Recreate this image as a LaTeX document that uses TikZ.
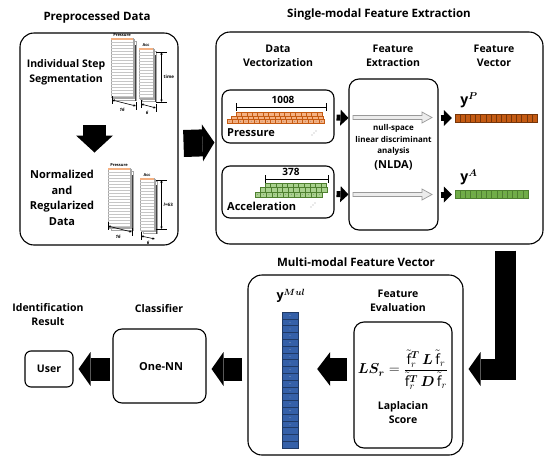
\documentclass[tikz,border=0pt]{standalone}
\usepackage{amsmath}
\usepackage{fontspec}
\setmainfont{Open Sans}
\usetikzlibrary{arrows.meta,calc}
\definecolor{porange}{HTML}{C55A11}
\definecolor{plight}{HTML}{F4B183}
\definecolor{agreen}{HTML}{70AD47}
\definecolor{alight}{HTML}{A9D18E}
\definecolor{adark}{HTML}{4E7F2F}
\definecolor{mblue}{HTML}{3560A8}
\newcommand{\sheetstack}[5]{%
  \foreach \k in {2,1,0}{
    \filldraw[fill=white, draw=gray!70, line width=0.3pt] ({#1+\k*1.6},{#2+\k*1.6}) rectangle ++(#3,#4);
  }
  \fill[plight] (#1,#2) rectangle ++(#3,1.6);
  \foreach \yy in {4,7,...,#4}{
    \draw[gray!45, line width=0.25pt] ({#1},{#2+\yy}) -- ++(#3,0);
  }
  \draw[line width=0.9pt, black!75] ({#1+#3+2.5},{#2+7}) -- ({#1+#3+2.5},{#2+#4+4});
  \node[font=\bfseries\fontsize{4}{4}\selectfont, anchor=south, inner sep=0.5pt] at ({#1+#3/2},{#2-0.5}) {#5};
}
\begin{document}
\begin{tikzpicture}[x=1pt,y=-1pt,
  bigbox/.style={draw, line width=1.1pt, rounded corners=14pt, inner sep=0pt},
  smallbox/.style={draw, line width=1.1pt, rounded corners=8pt, inner sep=0pt},
  ttl/.style={font=\bfseries\fontsize{11.5}{13}\selectfont, align=center},
  hdr/.style={font=\bfseries\fontsize{10.5}{14}\selectfont, align=center},
  sml/.style={font=\bfseries\fontsize{8}{11.5}\selectfont, align=center},
  tiny/.style={font=\bfseries\fontsize{4.5}{5}\selectfont, inner sep=0.5pt},
  blockarrow/.style n args={3}{line width=#1, -{Triangle[length=#2, width=#3, line width=0pt]}},
  dimline/.style={line width=0.6pt, {Latex[length=2.5pt,width=2.5pt]}-{Latex[length=2.5pt,width=2.5pt]}},
  hollow/.style={draw=gray!80, fill=gray!15, line width=0.7pt, line join=miter},
  vlbl/.style={font=\fontsize{14}{14}\selectfont, inner sep=0pt}
]
\useasboundingbox (0,0) rectangle (550,464);

% ---------- titles ----------
\node[ttl] (t1) at (97,18) {Preprocessed Data};
\node[ttl] (t2) at (379,15) {Single-modal Feature Extraction};

% ---------- left box ----------
\node[bigbox, minimum width=158pt, minimum height=212pt] (pre) at (99,139) {};
\node[hdr, font=\bfseries\fontsize{10.5}{15}\selectfont] (seg) at (66,72) {Individual Step\\Segmentation};
\node[hdr, font=\bfseries\fontsize{11}{15.5}\selectfont] (norm) at (62,198) {Normalized\\and\\Regularized\\Data};
\coordinate (d1) at (94.5,125);
\coordinate (d2) at (94.5,152.5);
\draw[blockarrow={23pt}{17pt}{37pt}] (d1) -- (d2);

% sheets top
\sheetstack{111}{38}{22}{59}{Pressure}
\sheetstack{139}{48}{14}{50}{Acc}
\draw (156,52) -- (167,52);
\draw (156,102) -- (167,102);
\draw[dimline] (161.5,52) -- (161.5,102);
\node[tiny, anchor=west] at (163,77) {time};
\draw[line width=0.6pt] (112,96) -- (112,104);
\draw[line width=0.6pt] (136,102) -- (136,110);
\draw[dimline] (112,100) -- (136,106);
\node[tiny, font=\bfseries\itshape\fontsize{4.5}{5}\selectfont] at (122,110) {16};
\draw[line width=0.6pt] (141,100) -- (141,108);
\draw[line width=0.6pt] (156,104) -- (156,112);
\draw[dimline] (141,104) -- (156,108);
\node[tiny, font=\bfseries\itshape\fontsize{4.5}{5}\selectfont] at (147,113) {6};

% sheets bottom
\sheetstack{108}{168}{22}{59}{Pressure}
\sheetstack{140}{178}{14}{52}{Acc}
\draw (156,180) -- (167,180);
\draw (156,229) -- (167,229);
\draw[dimline] (161.5,180) -- (161.5,229);
\node[tiny, anchor=west] at (163,205) {\textit{l}=63};
\draw[line width=0.6pt] (108,222) -- (108,230);
\draw[line width=0.6pt] (132,228) -- (132,236);
\draw[dimline] (108,226) -- (132,232);
\node[tiny, font=\bfseries\itshape\fontsize{4.5}{5}\selectfont] at (118,237) {16};
\draw[line width=0.6pt] (141,232) -- (141,240);
\draw[dimline] (141,236) -- (155,239);
\node[tiny, font=\bfseries\itshape\fontsize{4.5}{5}\selectfont] at (148,243) {6};

% ---------- right box ----------
\node[bigbox, minimum width=327pt, minimum height=212pt] (sme) at (379.5,138) {};
\draw[blockarrow={27pt}{12pt}{37pt}] ($(pre.east)+(5,4.5)$) -- ($(sme.west)+(-1,4.5)$);

\node[hdr] (h1) at (278,56) {Data\\Vectorization};
\node[hdr] (h2) at (393,56) {Feature\\Extraction};
\node[hdr] (h3) at (494,56) {Feature\\Vector};

\node[smallbox, minimum width=112pt, minimum height=53pt] (pbox) at (278,116.5) {};
\node[smallbox, minimum width=112pt, minimum height=52pt] (abox) at (278,192) {};
\node[smallbox, rounded corners=10pt, minimum width=89pt, minimum height=151pt] (nlda) at (393.5,154.5) {};

% pressure vector
\node[font=\bfseries\fontsize{10}{10}\selectfont] (n1008) at (283,100) {1008};
\draw[line width=0.7pt] (236,103) -- (236,111);
\draw[line width=0.7pt] (326,103) -- (326,111);
\draw[line width=0.6pt] (236,107) -- (326,107);
\foreach \i in {0,...,15}{
  \filldraw[fill=plight, draw=porange, line width=0.3pt] ({236+\i*5.4},112) rectangle ++(5.4,3.7);
}
\foreach \i in {0,...,16}{
  \filldraw[fill=plight, draw=porange, line width=0.3pt] ({231.5+\i*5.4},115.7) rectangle ++(5.4,3.7);
}
\foreach \i in {0,...,17}{
  \filldraw[fill=plight, draw=porange, line width=0.3pt] ({227+\i*5.4},119.4) rectangle ++(5.4,3.7);
  \fill[black!60] ({229.7+\i*5.4},121.25) circle (0.35pt);
}
\node[hdr, font=\bfseries\fontsize{11}{14}\selectfont, anchor=west, inner sep=0pt] (ptext) at (227,133) {Pressure};
\foreach \d in {0,1,2}{\fill ({312+\d*2},{135-\d*2}) circle (0.45pt);}

% acceleration vector
\node[font=\bfseries\fontsize{10}{10}\selectfont] (n378) at (291,172) {378};
\draw[line width=0.7pt] (265,175) -- (265,183);
\draw[line width=0.7pt] (328,175) -- (328,183);
\draw[line width=0.6pt] (265,179) -- (328,179);
\foreach \i in {0,...,10}{
  \filldraw[fill=alight, draw=adark, line width=0.3pt] ({265+\i*5.6},183) rectangle ++(5.6,4.6);
}
\foreach \i in {0,...,11}{
  \filldraw[fill=alight, draw=adark, line width=0.3pt] ({260+\i*5.6},187.6) rectangle ++(5.6,4.6);
}
\foreach \i in {0,...,11}{
  \filldraw[fill=alight, draw=adark, line width=0.3pt] ({255+\i*5.6},192.2) rectangle ++(5.6,4.6);
  \fill[black!60] ({257.8+\i*5.6},194.5) circle (0.35pt);
}
\node[hdr, font=\bfseries\fontsize{11}{14}\selectfont, anchor=west, inner sep=0pt] (atext) at (227,206) {Acceleration};
\foreach \d in {0,1,2}{\fill ({311+\d*2},{207-\d*2}) circle (0.45pt);}

% NLDA
\node[sml] (nl) at (393.5,140) {null-space\\linear discriminant\\analysis};
\node[hdr, font=\bfseries\fontsize{11}{14}\selectfont] (nlabbr) at (393.5,165) {(NLDA)};
\draw[hollow] (353,115.5) -- (422,115.5) -- (422,112) -- (432,117.5) -- (422,123) -- (422,119.5) -- (353,119.5) -- cycle;
\draw[hollow] (353,192.5) -- (422,192.5) -- (422,189) -- (432,194.5) -- (422,200) -- (422,196.5) -- (353,196.5) -- cycle;

% feature vectors
\node[draw=none, minimum width=82pt, minimum height=8pt, inner sep=0pt] (vp) at (496,118) {};
\foreach \i in {0,...,15}{
  \filldraw[fill=porange, draw=porange!60!black, line width=0.3pt] ({455+\i*5.125},114) rectangle ++(5.125,8);
  \fill[black!50] ({457.56+\i*5.125},118) circle (0.35pt);
}
\node[draw=none, minimum width=73pt, minimum height=8pt, inner sep=0pt] (va) at (491.5,194.5) {};
\foreach \i in {0,...,13}{
  \filldraw[fill=agreen, draw=adark, line width=0.3pt] ({455+\i*5.214},190.5) rectangle ++(5.214,8);
  \fill[black!50] ({457.6+\i*5.214},194.5) circle (0.35pt);
}
\node[vlbl] (yp) at (469,100) {$\mathbf{y}^{\boldsymbol{P}}$};
\node[vlbl] (ya) at (469,177) {$\mathbf{y}^{\boldsymbol{A}}$};

\draw[blockarrow={6pt}{8pt}{16pt}] ($(pbox.east)+(2,1)$) -- (nlda.west |- vp.west);
\draw[blockarrow={6pt}{8pt}{16pt}] ($(abox.east)+(2,2)$) -- (nlda.west |- va.west);
\draw[blockarrow={6pt}{8pt}{16pt}] ($(nlda.east |- vp.west)+(2,0)$) -- ($(vp.west)+(-3,0)$);
\draw[blockarrow={6pt}{8pt}{16pt}] ($(nlda.east |- va.west)+(2,0)$) -- ($(va.west)+(-3,0)$);

% ---------- bottom row ----------
\node[ttl] (t3) at (356,262) {Multi-modal Feature Vector};
\node[bigbox, minimum width=215pt, minimum height=180pt] (mm) at (355.5,365) {};
\coordinate (row) at (0,369);

\draw[blockarrow={21pt}{12pt}{34pt}, line join=miter] ($(sme.south -| 505.5,0)+(0,6)$) -- (505.5,369) -- ($(mm.east |- row)+(5,0)$);

\node[vlbl, font=\fontsize{12.5}{13}\selectfont] (ymul) at (291,296) {$\mathbf{y}^{\boldsymbol{Mul}}$};
\node[draw=none, minimum width=16pt, minimum height=136pt, inner sep=0pt] (col) at (290,380) {};
\foreach \i in {0,...,19}{
  \filldraw[fill=mblue, draw=mblue!60!black, line width=0.4pt] (282,{312+\i*6.8}) rectangle ++(16,6.8);
}
\foreach \i in {0,...,16}{
  \fill[white!80!black] (290,{315.4+\i*6.8}) circle (0.4pt);
}
\node[hdr] (fe) at (398,301) {Feature\\Evaluation};
\node[smallbox, rounded corners=10pt, minimum width=98pt, minimum height=126pt] (ls) at (403,385) {};
\node[inner sep=0pt, font=\fontsize{14}{16}\selectfont] (formula) at (403,370)
  {$\boldsymbol{LS_r} = \dfrac{\tilde{\mathrm{f}}_r^{\boldsymbol{T}}\,\boldsymbol{L}\,\tilde{\mathrm{f}}_r}{\tilde{\mathrm{f}}_r^{\boldsymbol{T}}\,\boldsymbol{D}\,\tilde{\mathrm{f}}_r}$};
\node[hdr] (lap) at (403,413) {Laplacian\\Score};
\draw[blockarrow={23pt}{13pt}{34pt}] ($(ls.west |- row)+(-6,0)$) -- ($(col.east |- row)+(19,0)$);

\node[hdr] (t4) at (159,309) {Classifier};
\node[smallbox, rounded corners=9pt, minimum width=93pt, minimum height=74pt] (cls) at (159.5,366) {};
\node[hdr, font=\bfseries\fontsize{11}{13}\selectfont] (onenn) at (161,367) {One-NN};
\draw[blockarrow={23pt}{12pt}{34pt}] ($(mm.west |- row)+(-5,0)$) -- ($(cls.east |- row)+(5,0)$);

\node[hdr] (t5) at (48,315) {Identification\\Result};
\node[smallbox, rounded corners=6pt, minimum width=48pt, minimum height=36pt] (user) at (49,369) {};
\node[hdr] (usertxt) at (49,369) {User};
\draw[blockarrow={23pt}{12pt}{34pt}] ($(cls.west |- row)+(-2,0)$) -- ($(user.east |- row)+(5,0)$);
\end{tikzpicture}
\end{document}
